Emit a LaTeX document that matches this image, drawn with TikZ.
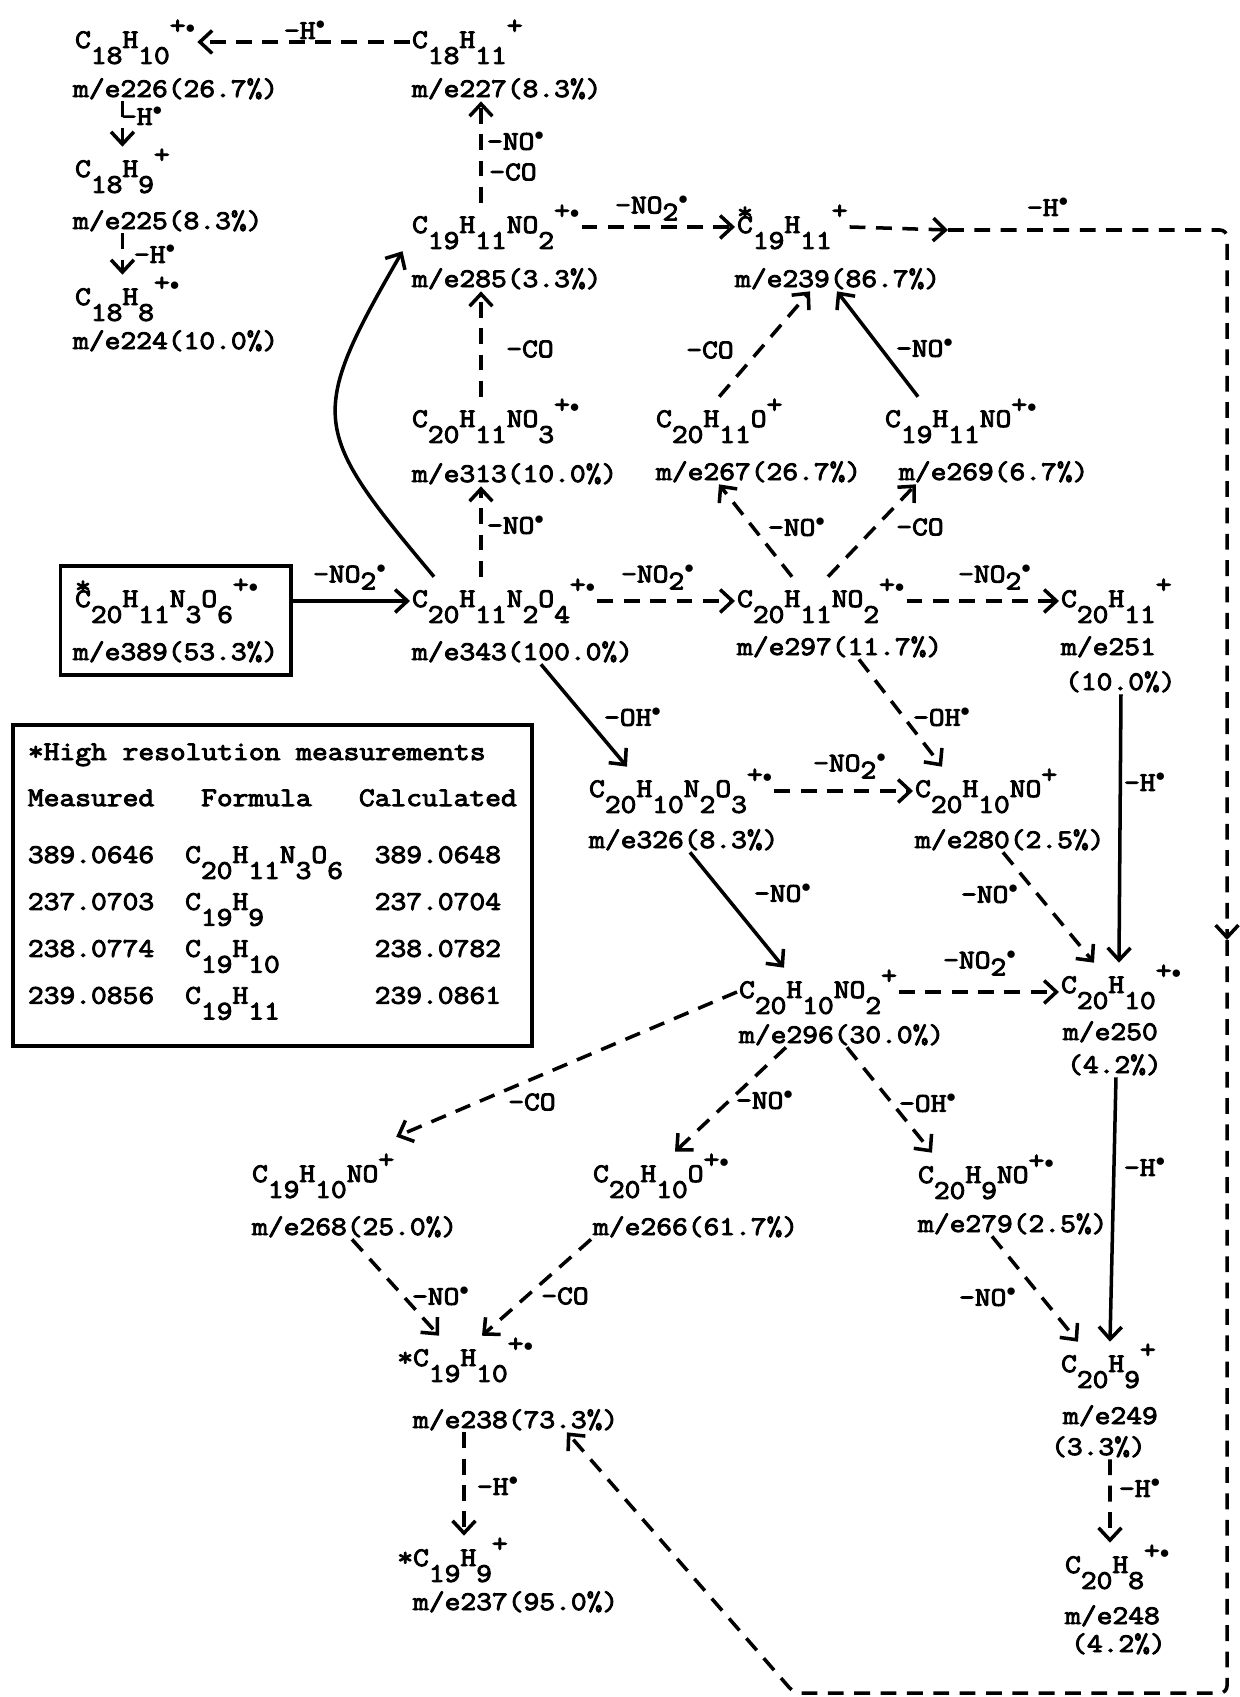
\documentclass[tikz,border=0pt]{standalone}
\usepackage{fontspec}
\setmainfont{Latin Modern Mono}[FakeStretch=1.14, FakeBold=3.5]
\usepackage{tikz}
\usetikzlibrary{arrows.meta, positioning, fit}

% typed sub/superscripts (half-line shifts)
\newcommand\dn[1]{\raisebox{-9pt}{#1}}
\newcommand\up[1]{\raisebox{8pt}{#1}}
\newcommand\lo[1]{\raisebox{-4pt}{#1}}
\newcommand\rad{$\scriptstyle\bullet$}
\newcommand\rdot{$^{\bullet}$}
\newcommand\topstar{\makebox[0pt][l]{\smash{\raisebox{7pt}{*}}}}
\newcommand\sidestar{\llap{*}}

\tikzset{
  typed/.style={font=\fontsize{15.3}{19.6}\selectfont, inner sep=1pt},
  ion/.style={typed, anchor=base west},
  mzline/.style={typed, anchor=base west},
  losslabel/.style={typed, inner sep=0pt},
  fragarrow/.style={line width=2pt, -{Straight Barb[length=7pt, width=13pt]}},
  dasharrow/.style={fragarrow, dash pattern=on 9pt off 6pt},
  framebox/.style={draw, line width=2.2pt, inner sep=6pt},
  tablebox/.style={typed, draw, line width=2.2pt, inner xsep=0.3cm, inner ysep=0.22cm, anchor=base west}
}

\begin{document}
\begin{tikzpicture}[x=0.02cm, y=-0.02cm]
\useasboundingbox (0,0) rectangle (1240,1697);

% Left column (m/e 226 -> 224)
\node[ion] (c226) at (73,48) {C\dn{18}H\dn{10}\up{+\rad}};
\node[mzline] (m226) at (71,97) {m/e226(26.7\%)};
\node[ion] (c225) at (73,177) {C\dn{18}H\dn{9}\up{+}};
\node[mzline] (m225) at (71,229) {m/e225(8.3\%)};
\node[ion] (c224) at (73,305) {C\dn{18}H\dn{8}\up{+\rad}};
\node[mzline] (m224) at (71,349) {m/e224(10.0\%)};

% Column above the base peak
\node[ion] (c227) at (410,48) {C\dn{18}H\dn{11}\up{+}};
\node[mzline] (m227) at (410,97) {m/e227(8.3\%)};
\node[ion] (c285) at (410,233) {C\dn{19}H\dn{11}NO\dn{2}\up{+\rad}};
\node[mzline] (m285) at (410,287) {m/e285(3.3\%)};
\node[ion] (c313) at (410,427) {C\dn{20}H\dn{11}NO\dn{3}\up{+\rad}};
\node[mzline] (m313) at (410,482) {m/e313(10.0\%)};
\node[ion] (c343) at (410,607) {C\dn{20}H\dn{11}N\dn{2}O\dn{4}\up{+\rad}};
\node[mzline] (m343) at (410,660) {m/e343(100.0\%)};

% Molecular ion
\node[ion] (c389) at (73,607) {\topstar C\dn{20}H\dn{11}N\dn{3}O\dn{6}\up{+\rad}};
\node[mzline] (m389) at (71,660) {m/e389(53.3\%)};
\node[framebox, fit=(c389)(m389)] (b389) {};

% Upper middle
\node[ion] (c239) at (735,233) {\topstar C\dn{19}H\dn{11}\up{+}};
\node[mzline] (m239) at (733,287) {m/e239(86.7\%)};
\node[ion] (c267) at (654,427) {C\dn{20}H\dn{11}O\up{+}};
\node[mzline] (m267) at (654,480) {m/e267(26.7\%)};
\node[ion] (c269) at (883,427) {C\dn{19}H\dn{11}NO\up{+\rad}};
\node[mzline] (m269) at (897,480) {m/e269(6.7\%)};
\node[ion] (c297) at (735,607) {C\dn{20}H\dn{11}NO\dn{2}\up{+\rad}};
\node[mzline] (m297) at (735,655) {m/e297(11.7\%)};

% Right column
\node[ion] (c251) at (1059,607) {C\dn{20}H\dn{11}\up{+}};
\node[mzline] (m251) at (1059,655) {m/e251};
\node[mzline] (p251) at (1063,690) {(10.0\%)};
\node[ion] (c250) at (1059,993) {C\dn{20}H\dn{10}\up{+\rad}};
\node[mzline] (m250) at (1061,1040) {m/e250};
\node[mzline] (p250) at (1065,1073) {(4.2\%)};
\node[ion] (c249) at (1059,1372) {C\dn{20}H\dn{9}\up{+}};
\node[mzline] (m249) at (1061,1424) {m/e249};
\node[mzline] (p249) at (1049,1455) {(3.3\%)};
\node[ion] (c248) at (1063,1573) {C\dn{20}H\dn{8}\up{+\rad}};
\node[mzline] (m248) at (1063,1624) {m/e248};
\node[mzline] (p248) at (1069,1652) {(4.2\%)};

% Middle rows
\node[ion] (c326) at (587,797) {C\dn{20}H\dn{10}N\dn{2}O\dn{3}\up{+\rad}};
\node[mzline] (m326) at (587,848) {m/e326(8.3\%)};
\node[ion] (c280) at (913,797) {C\dn{20}H\dn{10}NO\up{+}};
\node[mzline] (m280) at (913,848) {m/e280(2.5\%)};
\node[ion] (c296) at (737,998) {C\dn{20}H\dn{10}NO\dn{2}\up{+}};
\node[mzline] (m296) at (737,1043) {m/e296(30.0\%)};

% Lower rows
\node[ion] (c268) at (250,1182) {C\dn{19}H\dn{10}NO\up{+}};
\node[mzline] (m268) at (250,1235) {m/e268(25.0\%)};
\node[ion] (c266) at (591,1182) {C\dn{20}H\dn{10}O\up{+\rad}};
\node[mzline] (m266) at (591,1235) {m/e266(61.7\%)};
\node[ion] (c279) at (916,1183) {C\dn{20}H\dn{9}NO\up{+\rad}};
\node[mzline] (m279) at (916,1232) {m/e279(2.5\%)};
\node[ion] (c238) at (411,1366) {\sidestar C\dn{19}H\dn{10}\up{+\rad}};
\node[mzline] (m238) at (411,1428) {m/e238(73.3\%)};
\node[ion] (c237) at (411,1566) {\sidestar C\dn{19}H\dn{9}\up{+}};
\node[mzline] (m237) at (411,1610) {m/e237(95.0\%)};

% High resolution table
\node[tablebox] (hires) at (11,760) {\begin{tabular}[t]{@{}l@{\hspace{0.62cm}}l@{\hspace{0.32cm}}c@{}}
\multicolumn{3}{@{}l@{}}{*High resolution measurements}\\[6.6pt]
Measured & \hspace{0.32cm}Formula & Calculated\\[12.8pt]
389.0646 & \smash{C\dn{20}H\dn{11}N\dn{3}O\dn{6}} & 389.0648\\[7.1pt]
237.0703 & \smash{C\dn{19}H\dn{9}} & 237.0704\\[7.1pt]
238.0774 & \smash{C\dn{19}H\dn{10}} & 238.0782\\[7.1pt]
239.0856 & \smash{C\dn{19}H\dn{11}} & 239.0861\\[12pt]
\end{tabular}};

% Corners of the long return path
\coordinate (hmid) at (948,230);
\coordinate (cTR) at (1227,230);
\coordinate (vmid) at (1227,940);
\coordinate (cBR) at (1227,1693);
\coordinate (cBL) at (794,1693);

% Arrows, top left
\draw[dasharrow] (c227.west) -- (c226.east);
\draw[dasharrow] (m226.south -| c225.north) -- (c225.north);
\draw[dasharrow] (m225.south -| c225.north) -- (c224.north -| c225.north);
\draw[dasharrow] ([xshift=1.42cm]c285.north west) -- ([xshift=1.42cm]m227.south west);
\draw[dasharrow] ([xshift=1.42cm]c313.north west) -- ([xshift=1.42cm]m285.south west);
\draw[dasharrow] ([xshift=1.42cm]c343.north west) -- ([xshift=1.42cm]m313.south west);
\draw[fragarrow] ([xshift=0.48cm]c343.north west) to[out=130, in=240, looseness=1.5] ([xshift=-0.15cm]c285.south west);
\draw[dasharrow] (c285.east) -- (c239.west);

% Return path to m/e 238
\draw[dasharrow] (c239.east) -- (hmid);
\draw[dasharrow, rounded corners=4pt] (hmid) -- (cTR) -- (vmid);
\draw[dasharrow, rounded corners=4pt] (vmid) -- (cBR) -- (cBL) -- ([xshift=3.12cm]m238.south west);

% Into m/e 239
\draw[dasharrow] (c267.north) -- ([xshift=1.54cm]m239.south west);
\draw[fragarrow] ([xshift=0.7cm]c269.north west) -- ([xshift=2.08cm]m239.south west);
\draw[dasharrow] ([xshift=1.14cm]c297.north west) -- ([xshift=1.3cm]m267.south west);
\draw[dasharrow] ([xshift=1.86cm]c297.north west) -- ([xshift=0.38cm]m269.south west);

% Main row
\draw[fragarrow] (b389.east |- c343.west) -- (c343.west);
\draw[dasharrow] (c343.east) -- (c297.west);
\draw[dasharrow] (c297.east) -- (c251.west);
\draw[fragarrow] ([xshift=1.16cm]p251.south west) -- ([xshift=1.2cm]c250.north west);
\draw[fragarrow] ([xshift=2.62cm]m343.south west) -- ([xshift=0.8cm]c326.north west);
\draw[dasharrow] ([xshift=2.48cm]m297.south west) -- ([xshift=0.58cm]c280.north west);
\draw[dasharrow] (c326.east) -- (c280.west);
\draw[fragarrow] ([xshift=2.06cm]m326.south west) -- ([xshift=0.94cm]c296.north west);
\draw[dasharrow] ([xshift=1.8cm]m280.south west) -- ([xshift=0.7cm]c250.north west);
\draw[dasharrow] (c296.east) -- (c296.east -| c250.west);
\draw[fragarrow] ([xshift=1.02cm]p250.south west) -- ([xshift=1.02cm]c249.north west);

% Lower part
\draw[dasharrow] (c296.west) -- ([yshift=0.3cm]c268.north east);
\draw[dasharrow] ([xshift=0.98cm]m296.south west) -- ([xshift=1.68cm]c266.north west);
\draw[dasharrow] ([xshift=2.2cm]m296.south west) -- ([xshift=0.32cm]c279.north west);
\draw[dasharrow] ([xshift=1.52cm]m279.south west) -- ([xshift=0.38cm]c249.north west);
\draw[dasharrow] ([xshift=2.04cm]m268.south west) -- ([xshift=0.56cm]c238.north west);
\draw[dasharrow] (m266.south west) -- ([xshift=1.42cm]c238.north west);
\draw[dasharrow] ([xshift=1.06cm]m238.south west) -- ([xshift=1.06cm]c237.north west);
\draw[dasharrow] ([xshift=1.22cm]p249.south west) -- ([xshift=0.94cm]c248.north west);

% Losses
\node[losslabel] (l1) at (305,30) {--H\rdot};
\node[losslabel] (l2) at (142,116) {--H\rdot};
\node[losslabel] (l3) at (155,254) {--H\rdot};
\node[losslabel] (l4) at (516,141) {--NO\rdot};
\node[losslabel] (l5) at (513,172) {--CO};
\node[losslabel] (l6) at (530,349) {--CO};
\node[losslabel] (l7) at (516,525) {--NO\rdot};
\node[losslabel] (l8) at (652,208) {--NO\lo{2}\rdot};
\node[losslabel] (l9) at (1048,207) {--H\rdot};
\node[losslabel] (l10) at (710,350) {--CO};
\node[losslabel] (l11) at (925,348) {--NO\rdot};
\node[losslabel] (l12) at (797,527) {--NO\rdot};
\node[losslabel] (l13) at (920,527) {--CO};
\node[losslabel] (l14) at (350,577) {--NO\lo{2}\rdot};
\node[losslabel] (l15) at (658,577) {--NO\lo{2}\rdot};
\node[losslabel] (l16) at (995,577) {--NO\lo{2}\rdot};
\node[losslabel] (l17) at (633,717) {--OH\rdot};
\node[losslabel] (l18) at (942,717) {--OH\rdot};
\node[losslabel] (l19) at (1145,782) {--H\rdot};
\node[losslabel] (l20) at (850,766) {--NO\lo{2}\rdot};
\node[losslabel] (l21) at (783,893) {--NO\rdot};
\node[losslabel] (l22) at (990,894) {--NO\rdot};
\node[losslabel] (l23) at (980,963) {--NO\lo{2}\rdot};
\node[losslabel] (l24) at (532,1102) {--CO};
\node[losslabel] (l25) at (765,1100) {--NO\rdot};
\node[losslabel] (l26) at (928,1103) {--OH\rdot};
\node[losslabel] (l27) at (1145,1167) {--H\rdot};
\node[losslabel] (l28) at (441,1296) {--NO\rdot};
\node[losslabel] (l29) at (565,1296) {--CO};
\node[losslabel] (l30) at (988,1297) {--NO\rdot};
\node[losslabel] (l31) at (498,1486) {--H\rdot};
\node[losslabel] (l32) at (1140,1488) {--H\rdot};

\end{tikzpicture}
\end{document}
